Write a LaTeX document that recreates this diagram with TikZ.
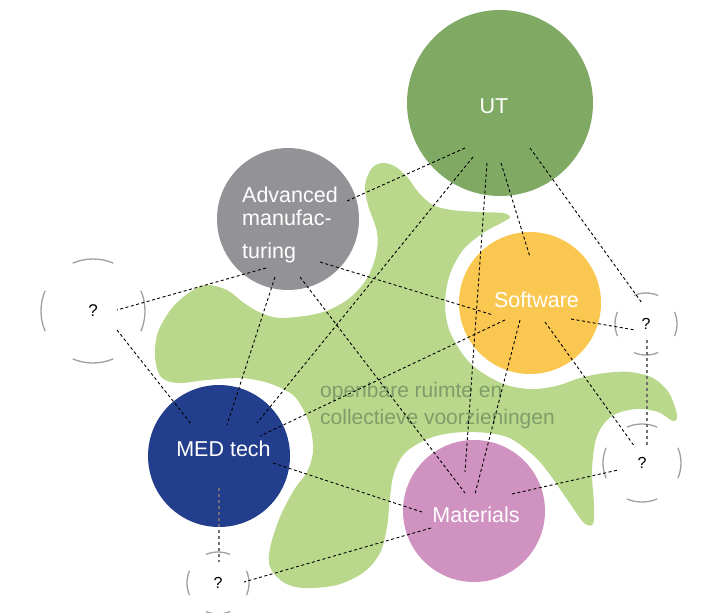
\documentclass[tikz,border=0pt]{standalone}
\usepackage{fontspec}
\setmainfont{Liberation Sans}
\usetikzlibrary{calc}
\definecolor{utgreen}{HTML}{80AA64}
\definecolor{blobgreen}{HTML}{B9D88C}
\definecolor{advgray}{HTML}{939397}
\definecolor{swyellow}{HTML}{FAC850}
\definecolor{mednavy}{HTML}{233E8C}
\definecolor{matpink}{HTML}{D092C0}
\definecolor{midtext}{HTML}{7E9E69}
\definecolor{arcgray}{HTML}{A0A0A0}
\definecolor{linkgray}{HTML}{707070}
\begin{document}
\begin{tikzpicture}[x=1pt,y=-1pt,
  hub/.style={circle, inner sep=0pt, draw=none},
  lbl/.style={text=white, inner sep=0pt, font=\fontsize{21.5}{27}\selectfont},
  link/.style={line width=0.9pt, dash pattern=on 3pt off 2.5pt, black},
  graylink/.style={line width=1.8pt, dash pattern=on 3pt off 3pt, draw=linkgray},
  qarc/.style={line width=1.3pt, draw=arcgray},
  qmark/.style={font=\fontsize{16}{18}\selectfont, inner sep=0pt}]
\useasboundingbox (0,0) rectangle (707,613);
% blob
\fill[blobgreen] plot[smooth cycle, tension=0.55] coordinates {
 (368,205) (365,185) (372,168) (383,163) (396,167) (408,178) (419,193) (433,205)
 (452,210) (480,212) (503,213) (510,217) (503,222) (483,233)
 (463,250) (450,274) (445,303) (450,332) (470,363) (501,383) (530,389) (556,386)
 (580,378) (605,373) (630,372) (653,378) (669,393) (677,415) (673,421) (658,412)
 (636,409) (612,416) (597,436) (592,470) (594,505) (593,524) (584,523) (571,505) (560,489)
 (548,472) (533,455) (507,437) (474,432) (445,434) (423,441) (404,454) (394,473)
 (390,497) (387,527) (380,553) (364,572) (337,585) (303,588) (283,582) (270,567)
 (270,548) (280,517) (294,490) (307,472) (313,452) (311,430) (305,413)
 (296,398) (285,390) (265,382) (240,378) (207,380) (178,383) (161,377) (155,357)
 (158,332) (172,308) (190,292) (207,285) (227,290) (244,303) (261,313) (282,318)
 (320,313) (347,300) (366,280) (376,255) (377,232)};
% hubs
\node[hub, fill=utgreen, minimum size=186pt] (ut) at (500,103) {};
\node[hub, fill=advgray, minimum size=142pt] (adv) at (288,219) {};
\node[hub, fill=swyellow, minimum size=142pt] (sw) at (530,303) {};
\node[hub, fill=mednavy, minimum size=142pt] (med) at (219,456) {};
\node[hub, fill=matpink, minimum size=142pt] (mat) at (474,511) {};
% labels
\node[lbl, anchor=base] (ut-t) at (494,113) {UT};
\node[lbl, anchor=base] (sw-t) at (536.5,307) {Software};
\node[lbl, anchor=base] (med-t) at (223.5,456) {MED tech};
\node[lbl, anchor=base] (mat-t) at (476,522) {Materials};
\node[lbl, anchor=base west, align=left] (adv-t) at (242,258) {Advanced\\[-4pt]manufac-\\[6pt]turing};
\node[anchor=base west, align=left, inner sep=0pt, text=midtext, font=\fontsize{21}{27}\selectfont] (mid) at (320,424) {openbare ruimte en\\collectieve voorzieningen};
% question nodes
\node[qmark, font=\fontsize{17}{18}\selectfont] (ql) at (93,311) {?};
\node[qmark] (qr) at (646,324) {?};
\node[qmark] (qlr) at (642,463) {?};
\node[qmark] (qb) at (218,583) {?};
\foreach \q/\r in {ql/52, qr/31, qlr/39, qb/31}
  \foreach \a in {0,90,180,270}
    \draw[qarc] ($(\q)+(\a-23:\r)$) arc[start angle=\a-23, end angle=\a+23, radius=\r];
% connector ends
\coordinate (ut1) at ($(ut)+(-35,45)$);
\coordinate (ut2) at ($(ut)+(-27,54)$);
\coordinate (ut3) at ($(ut)+(-13,60)$);
\coordinate (ut4) at ($(ut)+(1,60)$);
\coordinate (ut5) at ($(ut)+(30,45)$);
\coordinate (adv1) at ($(adv)+(59,-18)$);
\coordinate (adv2) at ($(adv)+(-22,49)$);
\coordinate (adv3) at ($(adv)+(-13,58)$);
\coordinate (adv4) at ($(adv)+(12,58)$);
\coordinate (adv5) at ($(adv)+(32,43)$);
\coordinate (sw1) at ($(sw)+(0,-46)$);
\coordinate (sw2) at ($(sw)+(-37,12)$);
\coordinate (sw3) at ($(sw)+(-25,17)$);
\coordinate (sw4) at ($(sw)+(-10,17)$);
\coordinate (sw5) at ($(sw)+(15,19)$);
\coordinate (sw6) at ($(sw)+(41,16)$);
\coordinate (med1) at ($(med)+(38,-33)$);
\coordinate (med2) at ($(med)+(8,-31)$);
\coordinate (med3) at ($(med)+(41,-20)$);
\coordinate (med4) at ($(med)+(-27,-31)$);
\coordinate (med5) at ($(med)+(54,7)$);
\coordinate (med6) at ($(med)+(0,32)$);
\coordinate (mat1) at ($(mat)+(-9,-39)$);
\coordinate (mat2) at ($(mat)+(-9,-18)$);
\coordinate (mat3) at ($(mat)+(1,-17)$);
\coordinate (mat4) at ($(mat)+(-52,1)$);
\coordinate (mat5) at ($(mat)+(38,-17)$);
\coordinate (mat6) at ($(mat)+(-43,17)$);
\coordinate (ql1) at ($(ql)+(24,-1)$);
\coordinate (ql2) at ($(ql)+(24,19)$);
\coordinate (qr1) at ($(qr)+(-4,-21)$);
\coordinate (qr2) at ($(qr)+(-11,6)$);
\coordinate (qr3) at ($(qr)+(1,16)$);
\coordinate (qlr1) at ($(qlr)+(-7,-16)$);
\coordinate (qlr2) at ($(qlr)+(-24,7)$);
\coordinate (qlr3) at ($(qlr)+(5,-16)$);
\coordinate (qb1) at ($(qb)+(1,-21)$);
\coordinate (qb2) at ($(qb)+(26,-1)$);
% connectors
\draw[link] (ut1) -- (adv1);
\draw[link] (ut2) -- (med1);
\draw[link] (ut3) -- (mat1);
\draw[link] (ut4) -- (sw1);
\draw[link] (ut5) -- (qr1);
\draw[link] (adv2) -- (ql1);
\draw[link] (adv3) -- (med2);
\draw[link] (adv4) -- (mat2);
\draw[link] (adv5) -- (sw2);
\draw[link] (sw3) -- (med3);
\draw[link] (sw4) -- (mat3);
\draw[link] (sw5) -- (qlr1);
\draw[link] (sw6) -- (qr2);
\draw[link] (ql2) -- (med4);
\draw[link] (med5) -- (mat4);
\draw[link] (mat5) -- (qlr2);
\draw[link] (mat6) -- (qb2);
\draw[graylink] (med6) -- (qb1);
\draw[graylink] (qr3) -- (qlr3);
\end{tikzpicture}
\end{document}
